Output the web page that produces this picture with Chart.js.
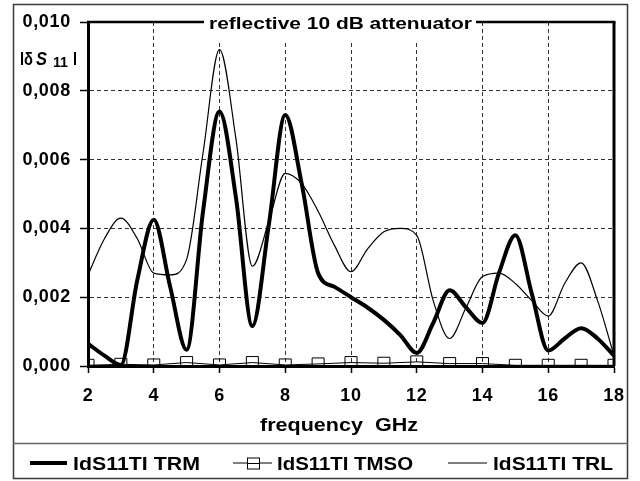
<!DOCTYPE html>
<html><head><meta charset="utf-8">
<script src="https://cdn.jsdelivr.net/npm/chart.js@4/dist/chart.umd.min.js"></script>
<style>html,body{margin:0;padding:0;background:#fff}#c{display:block}</style>
</head><body>
<canvas id="c" width="640" height="481"></canvas>
<script>
// ---------- data ----------
const freqFine = [2,2.5,3,3.5,4,4.5,5,5.5,6,6.5,7,7.5,8,8.5,9,9.5,10,10.5,11,11.5,12,12.5,13,13.5,14,14.5,15,15.5,16,16.5,17,17.5,18];
const trm = [0.00065,0.0003,0.00003,0.0025,0.00425,0.0023,0.00047,0.0045,0.0074,0.0049,0.00116,0.0041,0.0073,0.0053,0.0027,0.0023,0.0020,0.0017,0.00134,0.0009,0.00038,0.00125,0.0022,0.0017,0.00125,0.0027,0.0038,0.0021,0.00045,0.0008,0.0011,0.0008,0.0003];
const trl = [0.00265,0.0037,0.0043,0.0037,0.0027,0.00265,0.0031,0.0062,0.0092,0.0066,0.0029,0.0042,0.0056,0.0053,0.0045,0.0035,0.00274,0.0034,0.0039,0.0040,0.0038,0.0019,0.0008,0.0017,0.0026,0.0027,0.0024,0.0019,0.00145,0.0024,0.0030,0.0019,0.0003];
const freqInt = [2,3,4,5,6,7,8,9,10,11,12,13,14,15,16,17,18];
const tmso = [0.00002,0.00005,0.00003,0.0001,0.00003,0.0001,0.00003,0.00006,0.0001,0.00008,0.00012,0.00007,0.00007,0.00002,0.00002,0.00002,0.00002];
const seriesNames = ['IdS11TI TRM','IdS11TI TMSO','IdS11TI TRL'];
const xTickValues = [2,4,6,8,10,12,14,16,18];
const yTickValues = [0,0.002,0.004,0.006,0.008,0.010];
const chartTitle = 'reflective 10 dB attenuator';
const xAxisTitle = 'frequency  GHz';

const FONT = '"Liberation Sans", Arial, Helvetica, sans-serif';

// draws text stretched horizontally to a given ink width
function fitText(ctx, text, x, y, width, font) {
  ctx.save();
  ctx.font = font;
  ctx.letterSpacing = '0px';
  const w = ctx.measureText(text).width;
  const sx = width / w;
  ctx.translate(x, y);
  ctx.scale(sx, 1);
  ctx.textAlign = 'left';
  ctx.textBaseline = 'alphabetic';
  ctx.fillStyle = '#000';
  ctx.fillText(text, 0, 0);
  ctx.restore();
}

const decor = {
  id: 'decor',
  beforeDraw(chart) {
    const ctx = chart.ctx;
    ctx.save();
    ctx.fillStyle = '#fff';
    ctx.fillRect(0, 0, chart.width, chart.height);
    ctx.strokeStyle = '#3a3a3a';
    ctx.lineWidth = 1.5;
    ctx.strokeRect(13.5, 4.5, 614, 474);
    ctx.strokeStyle = '#666';
    ctx.beginPath(); ctx.moveTo(13, 443.5); ctx.lineTo(628, 443.5); ctx.stroke();
    ctx.restore();
    ctx.letterSpacing = '0.7px';
  },
  afterDraw(chart) {
    const ctx = chart.ctx;
    const a = chart.chartArea;
    ctx.letterSpacing = '0px';
    // top & right frame of plot area
    ctx.save();
    ctx.strokeStyle = '#000';
    ctx.lineWidth = 2.5;
    ctx.beginPath(); ctx.moveTo(a.left - 1, a.top); ctx.lineTo(a.right + 1.5, a.top); ctx.stroke();
    ctx.lineWidth = 3;
    ctx.beginPath(); ctx.moveTo(a.right, a.top); ctx.lineTo(a.right, a.bottom); ctx.stroke();
    // title box
    ctx.fillStyle = '#fff';
    ctx.fillRect(204, 8, 272, 34);
    ctx.restore();
    fitText(ctx, chartTitle, 209, 29, 263, 'bold 17px ' + FONT);
    // y label |δ S11|
    fitText(ctx, 'l\u03B4', 20, 65, 13, 'bold 18px ' + FONT);
    fitText(ctx, 'S', 36, 65, 11, 'italic bold 18px ' + FONT);
    fitText(ctx, '11', 53, 67, 15, 'bold 14px ' + FONT);
    fitText(ctx, 'l', 73, 65, 4, 'bold 18px ' + FONT);
    // x axis title
    fitText(ctx, xAxisTitle, 260, 431, 158, 'bold 18px ' + FONT);
    // legend
    const items = [
      {x0: 30, x1: 67, tx: 73, tw: 127},
      {x0: 233, x1: 272, tx: 277, tw: 136},
      {x0: 448, x1: 487, tx: 493, tw: 120}
    ];
    const ly = 463;
    chart.data.datasets.forEach((ds, i) => {
      const it = items[i];
      ctx.save();
      ctx.strokeStyle = ds.borderColor;
      ctx.lineWidth = ds.borderWidth;
      ctx.beginPath(); ctx.moveTo(it.x0, ly); ctx.lineTo(it.x1, ly); ctx.stroke();
      if (ds.pointStyle === 'rect' && ds.pointRadius > 0) {
        ctx.lineWidth = 1;
        ctx.fillStyle = '#fff';
        const cx = Math.round((it.x0 + it.x1) / 2);
        ctx.fillRect(cx - 6, ly - 5.5, 12, 11);
        ctx.strokeRect(cx - 6 + 0.5, ly - 5.5 + 0.5, 12, 11);
        ctx.beginPath(); ctx.moveTo(cx - 6, ly + 0.5); ctx.lineTo(cx + 6, ly + 0.5); ctx.stroke();
      }
      ctx.restore();
      fitText(ctx, ds.label, it.tx, 470, it.tw, 'bold 18px ' + FONT);
    });
  }
};

const ctx = document.getElementById('c').getContext('2d');
new Chart(ctx, {
  type: 'line',
  data: {
    datasets: [
      {
        label: seriesNames[0],
        data: freqFine.map((f, i) => ({x: f, y: trm[i]})),
        borderColor: '#000', borderWidth: 4,
        pointRadius: 0, cubicInterpolationMode: 'monotone', fill: false
      },
      {
        label: seriesNames[1],
        data: freqInt.map((f, i) => ({x: f, y: tmso[i]})),
        borderColor: '#000', borderWidth: 1,
        pointStyle: 'rect', pointRadius: 8.5, pointBorderWidth: 1,
        pointBorderColor: '#000', pointBackgroundColor: 'rgba(255,255,255,0)',
        tension: 0, fill: false
      },
      {
        label: seriesNames[2],
        data: freqFine.map((f, i) => ({x: f, y: trl[i]})),
        borderColor: '#000', borderWidth: 1.2,
        pointRadius: 0, cubicInterpolationMode: 'monotone', fill: false
      }
    ]
  },
  options: {
    responsive: false,
    animation: false,
    devicePixelRatio: 1,
    layout: {padding: {top: 22, right: 26, left: 0, bottom: 0}},
    plugins: {legend: {display: false}, tooltip: {enabled: false}, title: {display: false}},
    scales: {
      x: {
        type: 'linear', min: 2, max: 18,
        afterBuildTicks: s => { s.ticks = xTickValues.map(v => ({value: v})); },
        afterFit: s => { s.height = 115; },
        ticks: {
          autoSkip: false, maxRotation: 0, padding: 12, color: '#000',
          font: {family: FONT, size: 18, weight: 'bold'},
          callback: v => String(v)
        },
        grid: {color: '#333', lineWidth: 1, tickLength: 7, tickColor: '#000', tickWidth: 1.5},
        border: {display: true, color: '#000', width: 3, dash: [4, 3]}
      },
      y: {
        type: 'linear', min: 0, max: 0.010,
        afterBuildTicks: s => { s.ticks = yTickValues.map(v => ({value: v})); },
        afterFit: s => { s.width = 88; },
        ticks: {
          padding: 9, color: '#000',
          font: {family: FONT, size: 18, weight: 'bold'},
          callback: v => Number(v).toFixed(3).replace('.', ',')
        },
        grid: {color: '#333', lineWidth: 1, tickLength: 8, tickColor: '#000', tickWidth: 1.5},
        border: {display: true, color: '#000', width: 3, dash: [4, 3]}
      }
    }
  },
  plugins: [decor]
});
</script>
</body></html>
